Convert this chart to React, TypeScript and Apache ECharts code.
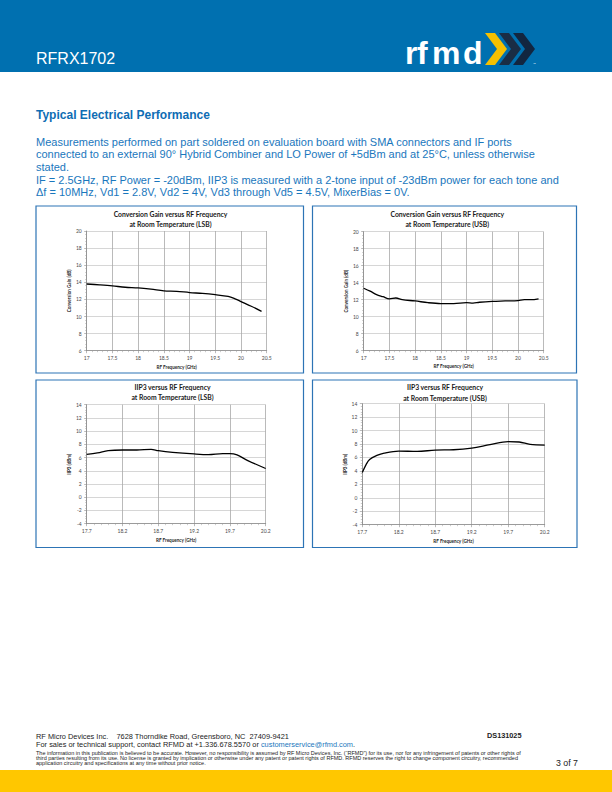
import React, { useEffect, useRef } from "react";
import * as echarts from "echarts";

// ---- data ----
const lsbGainFreq = [17, 17.25, 17.5, 17.75, 18, 18.25, 18.5, 18.75, 19, 19.25, 19.5, 19.75, 19.875, 20, 20.2, 20.4];
const lsbGain = [13.8, 13.7, 13.58, 13.42, 13.35, 13.2, 13.0, 12.95, 12.8, 12.7, 12.55, 12.35, 12.1, 11.75, 11.2, 10.6];

const usbGainFreq = [17, 17.125, 17.25, 17.375, 17.5, 17.625, 17.75, 18, 18.25, 18.5, 18.75, 19, 19.125, 19.25, 19.5, 19.75, 20, 20.125, 20.25, 20.4];
const usbGain = [13.35, 13.0, 12.6, 12.35, 12.1, 12.2, 12.0, 11.85, 11.65, 11.55, 11.55, 11.65, 11.6, 11.7, 11.8, 11.85, 11.9, 12.0, 12.0, 12.1];

const lsbIip3Freq = [17.7, 17.85, 18.0, 18.2, 18.4, 18.6, 18.7, 18.9, 19.2, 19.4, 19.6, 19.7, 19.8, 19.95, 20.2];
const lsbIip3 = [6.5, 6.7, 7.05, 7.15, 7.15, 7.25, 7.05, 6.8, 6.55, 6.45, 6.6, 6.6, 6.4, 5.55, 4.35];

const usbIip3Freq = [17.7, 17.75, 17.8, 17.9, 18.0, 18.2, 18.45, 18.7, 18.95, 19.2, 19.45, 19.7, 19.85, 20.0, 20.2];
const usbIip3 = [3.75, 4.9, 5.7, 6.3, 6.65, 6.95, 6.9, 7.1, 7.15, 7.4, 7.9, 8.35, 8.3, 7.95, 7.85];

// axis ranges / tick labels
const gainFreqRange = [17, 20.5];
const gainRange = [6, 20];
const iip3FreqStart = 17.7; // first tick label of the IIP3 charts
const iip3FreqSpan = [0, 2.5]; // span above the first label
const iip3Range = [-4, 14];

const chartTitles = [
  ["Conversion Gain versus RF Frequency", "at Room Temperature (LSB)"],
  ["Conversion Gain versus RF Frequency", "at Room Temperature (USB)"],
  ["IIP3 versus RF Frequency", "at Room Temperature (LSB)"],
  ["IIP3 versus RF Frequency", "at Room Temperature (USB)"],
];
const yNames = ["Conversion Gain (dB)", "Conversion Gain (dB)", "IIP3 (dBm)", "IIP3 (dBm)"];
const xName = "RF Frequency (GHz)";

const paragraph = [
  "Measurements performed on part soldered on evaluation board with SMA connectors and IF ports",
  "connected to an external 90° Hybrid Combiner and LO Power of +5dBm and at 25°C, unless otherwise",
  "stated.",
  "IF = 2.5GHz, RF Power = -20dBm, IIP3 is measured with a 2-tone input of -23dBm power for each tone and",
  "Δf = 10MHz, Vd1 = 2.8V, Vd2 = 4V, Vd3 through Vd5 = 4.5V, MixerBias = 0V.",
];
const finePrint = [
  "The information in this publication is believed to be accurate. However, no responsibility is assumed by RF Micro Devices, Inc. (\u201CRFMD\u201D) for its use, nor for any infringement of patents or other rights of",
  "third parties resulting from its use. No license is granted by implication or otherwise under any patent or patent rights of RFMD. RFMD reserves the right to change component circuitry, recommended",
  "application circuitry and specifications at any time without prior notice.",
];

const CF = "Lato, 'Open Sans', sans-serif";
const PF = "'Liberation Sans', Arial, sans-serif";

export default function App() {
  const ref = useRef<HTMLDivElement>(null);

  useEffect(() => {
    document.body.style.margin = "0";
    const chart = echarts.init(ref.current!, undefined, { renderer: "svg" });

    const grids = [
      { left: 86.7, top: 231, width: 180, height: 119.7 },
      { left: 363.7, top: 231.7, width: 180, height: 119 },
      { left: 86.7, top: 404.7, width: 179, height: 119 },
      { left: 362.3, top: 403.7, width: 182.4, height: 121 },
    ];
    const xGaps = [13.5, 12.5, 14, 14];

    const axisCommon = (i: number) => ({
      gridIndex: i,
      type: "value" as const,
      axisLine: { show: true, onZero: false, lineStyle: { color: "#8c8c8c", width: 0.8 } },
      axisTick: { show: true, length: 2.5, lineStyle: { color: "#8c8c8c", width: 0.6 } },
      minorTick: { show: true, splitNumber: 5, length: 1.5, lineStyle: { color: "#9a9a9a", width: 0.5 } },
      axisLabel: { fontSize: 5, color: "#4a4a4a", fontFamily: CF, margin: 5 },
      nameLocation: "middle" as const,
      nameTextStyle: { fontSize: 4.6, fontWeight: "bold" as const, fontFamily: CF, color: "#262626" },
    });

    const xAxis = [0, 1, 2, 3].map((i) => {
      const isIip3 = i >= 2;
      return {
        ...axisCommon(i),
        min: isIip3 ? iip3FreqSpan[0] : gainFreqRange[0],
        max: isIip3 ? iip3FreqSpan[1] : gainFreqRange[1],
        interval: 0.5,
        name: xName,
        nameGap: xGaps[i],
        splitLine: { show: true, lineStyle: { color: "#a8a8a8", width: 0.8 } },
        axisLabel: {
          ...axisCommon(i).axisLabel,
          formatter: isIip3
            ? (v: number) => (v + iip3FreqStart).toFixed(1)
            : (v: number) => String(v),
        },
      };
    });

    const yAxis = [0, 1, 2, 3].map((i) => {
      const isIip3 = i >= 2;
      return {
        ...axisCommon(i),
        min: isIip3 ? iip3Range[0] : gainRange[0],
        max: isIip3 ? iip3Range[1] : gainRange[1],
        interval: 2,
        name: yNames[i],
        nameGap: 14,
        splitLine: { show: true, lineStyle: { color: "#cccccc", width: 0.8 } },
      };
    });

    const pairs = (xs: number[], ys: number[], off = 0) => xs.map((x, k) => [+(x - off).toFixed(4), ys[k]]);
    const seriesData = [
      pairs(lsbGainFreq, lsbGain),
      pairs(usbGainFreq, usbGain),
      pairs(lsbIip3Freq, lsbIip3, iip3FreqStart),
      pairs(usbIip3Freq, usbIip3, iip3FreqStart),
    ];
    const series = seriesData.map((d, i) => ({
      type: "line" as const,
      xAxisIndex: i,
      yAxisIndex: i,
      data: d,
      symbol: "none",
      showSymbol: false,
      smooth: 0.35,
      lineStyle: { color: "#000000", width: 1.3 },
    }));

    const txt = (text: string, x: number, y: number, font: string, fill: string, align = "left") => ({
      type: "text" as const,
      x,
      y,
      silent: true,
      style: { text, font, fill, align, textAlign: align, verticalAlign: "middle", textVerticalAlign: "middle" },
    });

    const chevron = (x0: number, color: string) => ({
      type: "polygon" as const,
      silent: true,
      shape: {
        points: [
          [x0, 33],
          [x0 + 10, 33],
          [x0 + 22, 49],
          [x0 + 10, 65],
          [x0, 65],
          [x0 + 12, 49],
        ],
      },
      style: { fill: color },
    });

    const titlePos = [
      [170.5, 214.3, 224],
      [447.3, 214.3, 224.3],
      [172.5, 387.3, 397.3],
      [445, 387.3, 398],
    ];
    const boxes = [
      [36, 206, 267.5, 167],
      [312.5, 206, 264, 167],
      [36, 380, 267.5, 167.5],
      [312.5, 380, 264.5, 167.5],
    ];

    const graphic: any[] = [
      { type: "rect", silent: true, shape: { x: 0, y: 0, width: 612, height: 72 }, style: { fill: "#0070B0" } },
      txt("RFRX1702", 36, 58.4, `16px ${PF}`, "#ffffff"),
      txt("r", 405, 53, `bold 32px ${PF}`, "#ffffff"),
      txt("f", 417, 53, `bold 32px ${PF}`, "#ffffff"),
      txt("m", 432, 53, `bold 32px ${PF}`, "#ffffff"),
      txt("d", 463, 53, `bold 32px ${PF}`, "#ffffff"),
      chevron(513, "#122640"),
      chevron(499, "#1a2d45"),
      chevron(485, "#F5C000"),
      txt("™", 533, 64, `3px ${PF}`, "#ffffff"),
      txt("Typical Electrical Performance", 36, 115, `bold 12px ${PF}`, "#0E6DB4"),
      ...paragraph.map((l, k) => txt(l, 36, 141.5 + k * 12.7, `11px ${PF}`, "#1A77BD")),
      ...boxes.map(([x, y, w, h]) => ({
        type: "rect",
        silent: true,
        shape: { x, y, width: w, height: h },
        style: { fill: "none", stroke: "#2D74B5", lineWidth: 1.2 },
      })),
      ...titlePos.flatMap(([cx, y1, y2], i) => [
        txt(chartTitles[i][0], cx, y1, `bold 6.8px ${CF}`, "#1a1a1a", "center"),
        txt(chartTitles[i][1], cx, y2, `bold 6.8px ${CF}`, "#1a1a1a", "center"),
      ]),
      txt("RF Micro Devices Inc.    7628 Thorndike Road, Greensboro, NC  27409-9421", 36, 736, `7.4px ${PF}`, "#222222"),
      {
        type: "text",
        x: 36,
        y: 744.5,
        silent: true,
        style: {
          text: "{a|For sales or technical support, contact RFMD at +1.336.678.5570 or }{b|customerservice@rfmd.com}{a|.}",
          verticalAlign: "middle",
          textVerticalAlign: "middle",
          rich: {
            a: { font: `7.4px ${PF}`, fill: "#222222", fontSize: 7.4, fontFamily: PF, color: "#222222" },
            b: { font: `7.4px ${PF}`, fill: "#1A77BD", fontSize: 7.4, fontFamily: PF, color: "#1A77BD" },
          },
        },
      },
      ...finePrint.map((l, k) => txt(l, 36, 752.5 + k * 5, `5.5px ${PF}`, "#222222")),
      txt("DS131025", 487, 735.7, `bold 7.3px ${PF}`, "#222222"),
      txt("3 of 7", 556, 763, `8.8px ${PF}`, "#222222"),
      { type: "rect", silent: true, shape: { x: 0, y: 770, width: 612, height: 22 }, style: { fill: "#FFC700" } },
    ];

    chart.setOption({
      animation: false,
      backgroundColor: "#ffffff",
      grid: grids,
      xAxis,
      yAxis,
      series,
      graphic,
    });

    return () => chart.dispose();
  }, []);

  return <div ref={ref} style={{ position: "absolute", left: 0, top: 0, width: 612, height: 792 }} />;
}
